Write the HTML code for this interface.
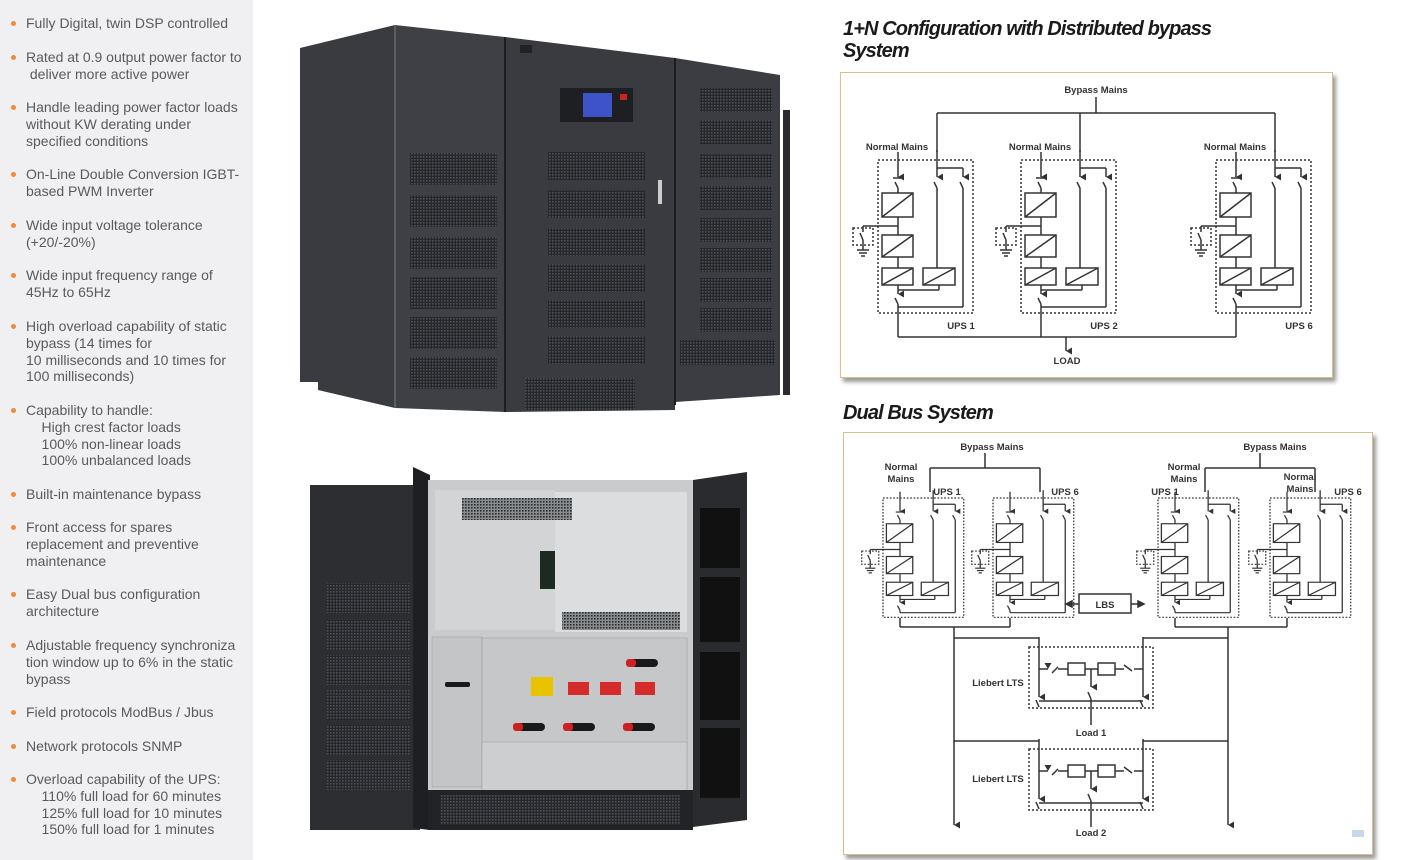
<!DOCTYPE html>
<html><head><meta charset="utf-8">
<style>
body{margin:0;width:1404px;height:860px;position:relative;background:#fff;overflow:hidden;font-family:"Liberation Sans",sans-serif;}
#left{position:absolute;left:0;top:0;width:253px;height:860px;background:#f0f0f2;}
.it{position:absolute;left:26px;font-size:14px;line-height:16.8px;color:#5a5a5a;white-space:nowrap;}
.it:before{content:"";position:absolute;left:-15px;top:6px;width:5px;height:5px;border-radius:50%;background:#f08a3c;}
.h{position:absolute;left:843px;font-weight:bold;font-style:italic;font-size:20px;letter-spacing:-0.9px;line-height:22px;color:#1a1a1a;}
.box{position:absolute;background:#fff;border:1.5px solid #d9bf8a;box-shadow:3px 4px 4px #999;}
svg text{font-family:"Liberation Sans",sans-serif;font-weight:bold;font-size:9.5px;fill:#333;}
</style></head><body>
<div id="left">
<div class="it" style="top:15px">Fully Digital, twin DSP controlled</div>
<div class="it" style="top:49px">Rated at 0.9 output power factor to<br>&nbsp;deliver more active power</div>
<div class="it" style="top:99px">Handle leading power factor loads<br>without KW derating under<br>specified conditions</div>
<div class="it" style="top:166px">On-Line Double Conversion IGBT-<br>based PWM Inverter</div>
<div class="it" style="top:217px">Wide input voltage tolerance<br>(+20/-20%)</div>
<div class="it" style="top:267px">Wide input frequency range of<br>45Hz to 65Hz</div>
<div class="it" style="top:318px">High overload capability of static<br>bypass (14 times for<br>10 milliseconds and 10 times for<br>100 milliseconds)</div>
<div class="it" style="top:402px">Capability to handle:<br>&nbsp;&nbsp;&nbsp;&nbsp;High crest factor loads<br>&nbsp;&nbsp;&nbsp;&nbsp;100% non-linear loads<br>&nbsp;&nbsp;&nbsp;&nbsp;100% unbalanced loads</div>
<div class="it" style="top:486px">Built-in maintenance bypass</div>
<div class="it" style="top:519px">Front access for spares<br>replacement and preventive<br>maintenance</div>
<div class="it" style="top:586px">Easy Dual bus configuration<br>architecture</div>
<div class="it" style="top:637px">Adjustable frequency synchroniza<br>tion window up to 6% in the static<br>bypass</div>
<div class="it" style="top:704px">Field protocols ModBus / Jbus</div>
<div class="it" style="top:738px">Network protocols SNMP</div>
<div class="it" style="top:771px">Overload capability of the UPS:<br>&nbsp;&nbsp;&nbsp;&nbsp;110% full load for 60 minutes<br>&nbsp;&nbsp;&nbsp;&nbsp;125% full load for 10 minutes<br>&nbsp;&nbsp;&nbsp;&nbsp;150% full load for 1 minutes</div>
</div>

<svg style="position:absolute;left:0;top:0" width="800" height="860">
<defs>
<pattern id="vent" width="3" height="3" patternUnits="userSpaceOnUse"><rect width="3" height="3" fill="#25272a"/><rect width="1.6" height="1.6" fill="#4c4f55"/></pattern>
<pattern id="vent2" width="3" height="3" patternUnits="userSpaceOnUse"><rect width="3" height="3" fill="#8a8d90"/><rect width="1.6" height="1.6" fill="#2a2c2e"/></pattern>
</defs>
<polygon points="300,48 395,25 395,408 318,390 318,382 300,382" fill="#393b40"/>
<polygon points="395,25 505,37 505,412 395,408" fill="#3e4046"/>
<polygon points="505,37 675,58 675,410 505,412" fill="#393b40"/>
<polygon points="675,58 780,75 780,395 675,402" fill="#3b3d42"/>
<rect x="783" y="110" width="7" height="285" fill="#2a2c2f"/>
<line x1="395" y1="25" x2="395" y2="408" stroke="#5a5d62" stroke-width="2"/>
<line x1="505" y1="37" x2="505" y2="412" stroke="#1c1d20" stroke-width="2"/>
<line x1="675" y1="58" x2="675" y2="405" stroke="#1c1d20" stroke-width="2"/>
<g fill="url(#vent)">
<rect x="410" y="153" width="87" height="32"/><rect x="410" y="195" width="87" height="32"/><rect x="410" y="237" width="87" height="32"/><rect x="410" y="277" width="87" height="32"/><rect x="410" y="317" width="87" height="32"/><rect x="410" y="357" width="87" height="32"/>
<rect x="548" y="152" width="97" height="28"/><rect x="548" y="190" width="97" height="28"/><rect x="548" y="228" width="97" height="28"/><rect x="548" y="264" width="97" height="28"/><rect x="548" y="300" width="97" height="28"/><rect x="548" y="336" width="97" height="28"/>
<rect x="700" y="88" width="72" height="24"/><rect x="700" y="120" width="72" height="24"/><rect x="700" y="154" width="72" height="24"/><rect x="700" y="186" width="72" height="24"/><rect x="700" y="218" width="72" height="24"/><rect x="700" y="248" width="72" height="24"/><rect x="700" y="278" width="72" height="24"/><rect x="700" y="308" width="72" height="24"/>
<rect x="525" y="378" width="110" height="32"/><rect x="680" y="340" width="95" height="25"/>
</g>
<rect x="560" y="88" width="73" height="34" fill="#1e1f22"/>
<rect x="583" y="93" width="29" height="24" fill="#3f53c8"/>
<rect x="620" y="94" width="7" height="6" fill="#c22"/>
<rect x="658" y="180" width="4" height="24" fill="#ccc"/>
<rect x="520" y="45" width="12" height="8" fill="#222"/>
<rect x="310" y="485" width="110" height="345" fill="#2c2e31"/>
<g fill="url(#vent)"><rect x="327" y="583" width="83" height="30"/><rect x="327" y="620" width="83" height="30"/><rect x="327" y="655" width="83" height="30"/><rect x="327" y="690" width="83" height="30"/><rect x="327" y="725" width="83" height="30"/><rect x="327" y="760" width="83" height="30"/></g>
<polygon points="413,467 430,475 430,830 413,828" fill="#1e1f22"/>
<rect x="428" y="480" width="265" height="350" fill="#c9cbcd"/>
<rect x="435" y="490" width="120" height="140" fill="#d2d4d6"/>
<rect x="555" y="492" width="132" height="140" fill="#dcdddf"/>
<rect x="462" y="498" width="110" height="22" fill="url(#vent2)"/>
<rect x="562" y="612" width="118" height="18" fill="url(#vent2)"/>
<rect x="497" y="640" width="185" height="14" fill="url(#vent2)"/>
<rect x="432" y="637" width="50" height="150" fill="#c3c5c7" stroke="#999" stroke-width="0.5"/>
<rect x="482" y="638" width="205" height="112" fill="#c5c7c9" stroke="#999" stroke-width="0.5"/>
<rect x="482" y="742" width="205" height="55" fill="#ccced0" stroke="#999" stroke-width="0.5"/>
<rect x="531" y="677" width="22" height="19" fill="#e8c300"/>
<rect x="568" y="682" width="21" height="13" fill="#d52b2b"/><rect x="600" y="682" width="21" height="13" fill="#d52b2b"/><rect x="635" y="682" width="20" height="13" fill="#d52b2b"/>
<g fill="#1a1a1a"><rect x="628" y="659" width="30" height="8" rx="4"/><rect x="515" y="723" width="30" height="8" rx="4"/><rect x="565" y="723" width="30" height="8" rx="4"/><rect x="625" y="723" width="30" height="8" rx="4"/><rect x="445" y="682" width="25" height="5" rx="2"/></g>
<g fill="#c22"><rect x="626" y="659" width="10" height="8" rx="3"/><rect x="513" y="723" width="10" height="8" rx="3"/><rect x="563" y="723" width="10" height="8" rx="3"/><rect x="623" y="723" width="10" height="8" rx="3"/></g>
<rect x="540" y="551" width="15" height="38" fill="#1d2a22"/>
<rect x="428" y="790" width="265" height="40" fill="#222326"/>
<rect x="440" y="795" width="240" height="30" fill="url(#vent)"/>
<polygon points="693,480 747,472 747,820 693,827" fill="#2a2b2e"/>
<g fill="#111"><rect x="700" y="508" width="40" height="60"/><rect x="700" y="577" width="40" height="65"/><rect x="700" y="652" width="40" height="68"/><rect x="700" y="728" width="40" height="70"/></g>
</svg>

<div class="h" style="top:18px">1+N Configuration with Distributed bypass<br>System</div>
<div class="h" style="top:402px">Dual Bus System</div>
<div class="box" style="left:840px;top:72px;width:491px;height:304px"></div>
<div class="box" style="left:843px;top:432px;width:528px;height:421px"></div>

<svg style="position:absolute;left:0;top:0" width="1404" height="860">
<defs>
<marker id="ar" markerWidth="7" markerHeight="7" refX="3.5" refY="6" orient="auto" markerUnits="userSpaceOnUse"><path d="M0,0 L7,0 L3.5,6z" fill="#333"/></marker>
<g id="mod" fill="none" stroke="#333" stroke-width="1.5">
<rect x="-20" y="0" width="95" height="153" stroke-dasharray="2,2"/>
<line x1="0" y1="-8" x2="0" y2="17" marker-end="url(#ar)"/>
<line x1="-5" y1="18" x2="5" y2="18"/>
<line x1="-3" y1="22" x2="0" y2="28"/><line x1="0" y1="28" x2="0" y2="33"/>
<rect x="-16" y="33" width="31" height="24"/><line x1="-16" y1="57" x2="15" y2="33"/>
<line x1="0" y1="57" x2="0" y2="75"/>
<line x1="0" y1="66" x2="-35" y2="66"/><line x1="-35" y1="66" x2="-35" y2="72"/>
<rect x="-45" y="68" width="20" height="17" stroke-dasharray="2,2"/>
<line x1="-38" y1="73" x2="-35" y2="80"/><line x1="-35" y1="80" x2="-35" y2="90"/>
<line x1="-41" y1="90" x2="-29" y2="90"/><line x1="-39" y1="93" x2="-31" y2="93"/><line x1="-37" y1="96" x2="-33" y2="96"/>
<rect x="-16" y="75" width="31" height="22"/><line x1="-16" y1="97" x2="15" y2="75"/>
<line x1="0" y1="97" x2="0" y2="108"/>
<rect x="-16" y="108" width="31" height="17"/><line x1="-16" y1="125" x2="15" y2="108"/>
<rect x="25" y="108" width="32" height="17"/><line x1="25" y1="125" x2="57" y2="108"/>
<line x1="39" y1="-10" x2="39" y2="17" marker-end="url(#ar)"/>
<line x1="39" y1="8" x2="65" y2="8"/><line x1="65" y1="8" x2="65" y2="17" marker-end="url(#ar)"/>
<line x1="36" y1="22" x2="39" y2="28"/><line x1="39" y1="28" x2="39" y2="108"/>
<line x1="62" y1="22" x2="65" y2="28"/><line x1="65" y1="28" x2="65" y2="147"/>
<line x1="41" y1="125" x2="41" y2="130"/><line x1="41" y1="130" x2="0" y2="130"/>
<line x1="0" y1="125" x2="0" y2="134" marker-end="url(#ar)"/>
<line x1="-3" y1="138" x2="0" y2="144"/><line x1="0" y1="144" x2="0" y2="147"/>
<line x1="0" y1="147" x2="65" y2="147"/>
</g>
<g id="lts" fill="none" stroke="#333" stroke-width="1.5">
<rect x="1029" y="0" width="124" height="61" stroke-dasharray="2,2"/>
<line x1="1039" y1="-10" x2="1039" y2="50" marker-end="url(#ar)"/>
<line x1="1143" y1="-10" x2="1143" y2="50" marker-end="url(#ar)"/>
<line x1="1039" y1="22" x2="1048" y2="22" marker-end="url(#ar)"/>
<line x1="1143" y1="22" x2="1134" y2="22"/>
<line x1="1052" y1="26" x2="1058" y2="20"/><line x1="1058" y1="22" x2="1068" y2="22"/>
<rect x="1068" y="16" width="17" height="12"/><rect x="1098" y="16" width="17" height="12"/>
<line x1="1085" y1="22" x2="1098" y2="22"/><line x1="1115" y1="22" x2="1124" y2="22"/>
<line x1="1124" y1="18" x2="1132" y2="24"/>
<line x1="1091" y1="22" x2="1091" y2="40" marker-end="url(#ar)"/>
<line x1="1088" y1="45" x2="1091" y2="52"/><line x1="1091" y1="52" x2="1091" y2="78"/>
<line x1="1036" y1="53" x2="1039" y2="60"/><line x1="1140" y1="53" x2="1143" y2="60"/>
<line x1="1039" y1="54" x2="1143" y2="54"/>
</g>
</defs>

<text x="1096" y="93" text-anchor="middle">Bypass Mains</text>
<g fill="none" stroke="#333" stroke-width="1.5">
<line x1="1096" y1="97" x2="1096" y2="113"/>
<line x1="937" y1="113" x2="1275" y2="113"/>
<line x1="937" y1="113" x2="937" y2="152"/><line x1="1080" y1="113" x2="1080" y2="152"/><line x1="1275" y1="113" x2="1275" y2="152"/>
<line x1="898" y1="307" x2="898" y2="337"/><line x1="1041" y1="307" x2="1041" y2="337"/><line x1="1236" y1="307" x2="1236" y2="337"/>
<line x1="898" y1="337" x2="1236" y2="337"/>
<line x1="1066" y1="337" x2="1066" y2="351" marker-end="url(#ar)"/>
</g>
<use href="#mod" transform="translate(898,160)"/>
<use href="#mod" transform="translate(1041,160)"/>
<use href="#mod" transform="translate(1236,160)"/>
<text x="897" y="150" text-anchor="middle">Normal Mains</text>
<text x="1040" y="150" text-anchor="middle">Normal Mains</text>
<text x="1235" y="150" text-anchor="middle">Normal Mains</text>
<text x="961" y="329" text-anchor="middle">UPS 1</text>
<text x="1104" y="329" text-anchor="middle">UPS 2</text>
<text x="1299" y="329" text-anchor="middle">UPS 6</text>
<text x="1067" y="364" text-anchor="middle">LOAD</text>

<text x="992" y="450" text-anchor="middle">Bypass Mains</text>
<text x="1275" y="450" text-anchor="middle">Bypass Mains</text>
<g fill="none" stroke="#333" stroke-width="1.5">
<line x1="985" y1="453" x2="985" y2="468"/><line x1="930" y1="468" x2="1040" y2="468"/>
<line x1="930" y1="468" x2="930" y2="492"/><line x1="1040" y1="468" x2="1040" y2="492"/>
<line x1="1260" y1="453" x2="1260" y2="468"/><line x1="1205" y1="468" x2="1315" y2="468"/>
<line x1="1205" y1="468" x2="1205" y2="492"/><line x1="1315" y1="468" x2="1315" y2="492"/>
<line x1="900" y1="618" x2="900" y2="627"/><line x1="1010" y1="618" x2="1010" y2="627"/>
<line x1="1175" y1="618" x2="1175" y2="627"/><line x1="1287" y1="618" x2="1287" y2="627"/>
<line x1="900" y1="627" x2="1010" y2="627"/><line x1="1175" y1="627" x2="1287" y2="627"/>
<line x1="954" y1="627" x2="954" y2="825" marker-end="url(#ar)"/>
<line x1="1228" y1="627" x2="1228" y2="825" marker-end="url(#ar)"/>
<line x1="954" y1="638" x2="1039" y2="638"/><line x1="1143" y1="638" x2="1228" y2="638"/>
<line x1="954" y1="741" x2="1039" y2="741"/><line x1="1143" y1="741" x2="1228" y2="741"/>
<rect x="1079" y="594" width="52" height="19"/>
<line x1="1079" y1="604" x2="1070" y2="604"/><path d="M1066,604 l6,-3 v6z" fill="#333"/>
<line x1="1131" y1="604" x2="1140" y2="604"/><path d="M1144,604 l-6,-3 v6z" fill="#333"/>
</g>
<use href="#mod" transform="translate(900,498) scale(0.85,0.78)"/>
<use href="#mod" transform="translate(1010,498) scale(0.85,0.78)"/>
<use href="#mod" transform="translate(1175,498) scale(0.85,0.78)"/>
<use href="#mod" transform="translate(1287,498) scale(0.85,0.78)"/>
<use href="#lts" transform="translate(0,647)"/>
<use href="#lts" transform="translate(0,749)"/>
<text x="1105" y="608" text-anchor="middle">LBS</text>
<text x="901" y="470" text-anchor="middle">Normal</text><text x="901" y="482" text-anchor="middle">Mains</text>
<text x="1184" y="470" text-anchor="middle">Normal</text><text x="1184" y="482" text-anchor="middle">Mains</text>
<text x="1300" y="480" text-anchor="middle">Normal</text><text x="1300" y="492" text-anchor="middle">Mains</text>
<text x="947" y="495" text-anchor="middle">UPS 1</text>
<text x="1065" y="495" text-anchor="middle">UPS 6</text>
<text x="1165" y="495" text-anchor="middle">UPS 1</text>
<text x="1348" y="495" text-anchor="middle">UPS 6</text>
<text x="998" y="686" text-anchor="middle">Liebert LTS</text>
<text x="998" y="782" text-anchor="middle">Liebert LTS</text>
<text x="1091" y="736" text-anchor="middle">Load 1</text>
<text x="1091" y="836" text-anchor="middle">Load 2</text>
<rect x="1352" y="830" width="12" height="7" fill="#c8d8e8"/>
</svg>
</body></html>
